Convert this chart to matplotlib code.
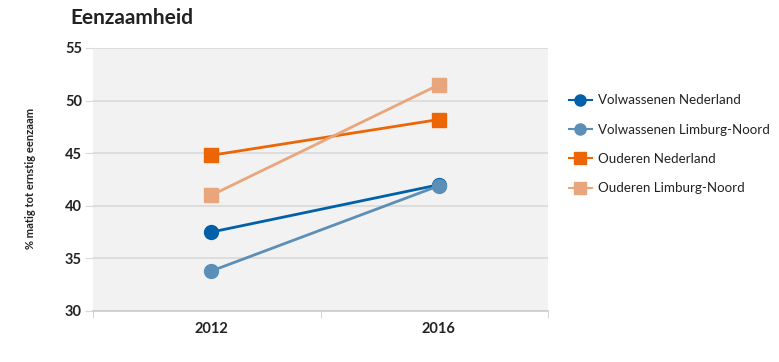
import numpy as np
import matplotlib.pyplot as plt
from matplotlib.ticker import FixedLocator

plt.rcParams['font.family'] = ['Lato', 'DejaVu Sans']

years = ["2012", "2016"]
volw_nl = [37.5, 42.0]
volw_ln = [33.8, 41.9]
oud_nl = [44.8, 48.2]
oud_ln = [41.0, 51.5]

series = [
    ("Volwassenen Nederland", volw_nl, "#0060a9", "o"),
    ("Volwassenen Limburg-Noord", volw_ln, "#5b8fb7", "o"),
    ("Ouderen Nederland", oud_nl, "#ec6607", "s"),
    ("Ouderen Limburg-Noord", oud_ln, "#e9a57b", "s"),
]

fig = plt.figure(figsize=(7.79, 3.62), dpi=100)
ax = fig.add_axes([93 / 779, 1 - 311 / 362, (548 - 93) / 779, (311 - 48) / 362])
ax.set_facecolor("#f2f2f2")

x = np.arange(len(years))
for name, vals, col, mk in series:
    ax.plot(x, vals, color=col, lw=2, marker=mk, ms=10 if mk == "o" else 10.5,
            label=name, zorder=3)

ax.set_xlim(-0.52, 1.48)
ax.set_ylim(30, 55)
ax.set_yticks([30, 35, 40, 45, 50, 55])
ax.set_xticks(x)
ax.set_xticklabels(years)
ax.xaxis.set_minor_locator(FixedLocator([-0.52, 0.48, 1.48]))
ax.tick_params(axis="x", which="major", length=0, pad=8)
ax.tick_params(axis="x", which="minor", length=5, color="#cccccc")
ax.tick_params(axis="y", length=6, color="#d9d9d9", pad=2)
for lbl in ax.get_xticklabels() + ax.get_yticklabels():
    lbl.set_fontweight("bold")
    lbl.set_fontsize(10.5)
    lbl.set_color("#222222")

ax.grid(axis="y", color="#d9d9d9", lw=1.2, zorder=0)
ax.set_axisbelow(True)
for s in ["top", "right", "left"]:
    ax.spines[s].set_visible(False)
ax.spines["bottom"].set_color("#cccccc")
ax.spines["bottom"].set_linewidth(1.2)

fig.text(30 / 779, 1 - 178 / 362, "% matig tot ernstig eenzaam", rotation=90,
         ha="center", va="center", fontsize=8, fontweight="bold", color="#222222")
fig.text(70 / 779, 1 - 18 / 362, "Eenzaamheid", ha="left", va="center",
         fontsize=15, fontweight="bold", color="#222222")

leg = ax.legend(loc="upper left", bbox_to_anchor=(1.02, 0.87), frameon=False,
                fontsize=9.6, labelspacing=1.3, handlelength=1.7, handletextpad=0.5)
for h in leg.legend_handles:
    h.set_markersize(8)
    h.set_linewidth(1.5)
for t in leg.get_texts():
    t.set_color("#222222")

fig.savefig("out.png", dpi=100)
